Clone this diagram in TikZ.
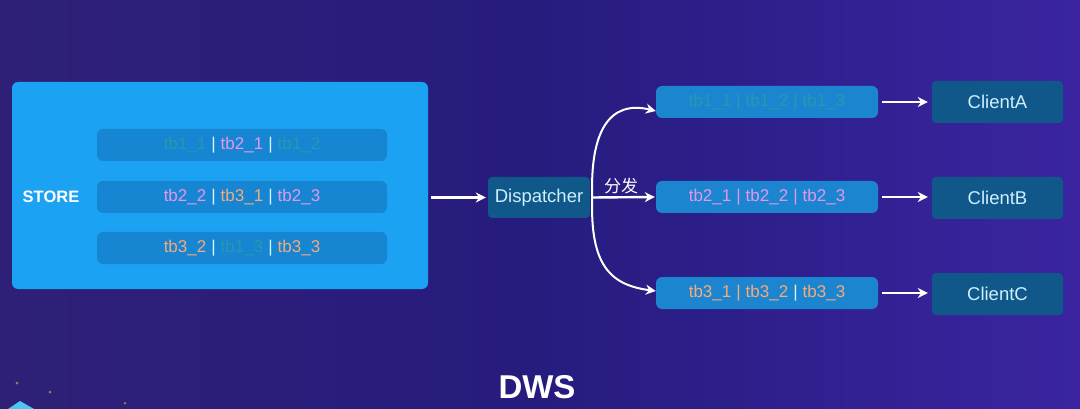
\documentclass[tikz,border=0pt]{standalone}
\usepackage{fontspec}
\setmainfont{Liberation Sans}
\newfontfamily\cjk{Noto Sans CJK SC}
\usetikzlibrary{arrows.meta}
\definecolor{bgA}{RGB}{46,32,118}
\definecolor{bgB}{RGB}{38,28,126}
\definecolor{bgC}{RGB}{58,36,160}
\definecolor{storeC}{RGB}{27,162,243}
\definecolor{rowC}{RGB}{22,134,210}
\definecolor{rrowC}{RGB}{27,134,207}
\definecolor{tealC}{RGB}{16,88,138}
\definecolor{txtC}{RGB}{205,240,252}
\definecolor{tbA}{RGB}{40,152,175}
\definecolor{tbB}{RGB}{228,150,236}
\definecolor{tbC}{RGB}{244,170,122}
\definecolor{pipeC}{RGB}{215,245,255}
\newcommand{\tA}[1]{\textcolor{tbA}{#1}}
\newcommand{\tB}[1]{\textcolor{tbB}{#1}}
\newcommand{\tC}[1]{\textcolor{tbC}{#1}}
\newcommand{\pp}{\hspace{5pt}\textcolor{pipeC}{|}\hspace{5pt}}
\newcommand{\ppB}{\hspace{5pt}\textcolor{tbB}{|}\hspace{5pt}}
\newcommand{\ppC}{\hspace{5pt}\textcolor{tbC}{|}\hspace{5pt}}
\newcommand{\ppA}{\hspace{5pt}\textcolor{tbA}{|}\hspace{5pt}}
\begin{document}
\begin{tikzpicture}[x=1pt,y=-1pt,
  storebox/.style={rectangle,rounded corners=6pt,fill=storeC,minimum width=416pt,minimum height=207pt,inner sep=0pt},
  rowbox/.style={rectangle,rounded corners=6pt,fill=rowC,minimum width=290pt,minimum height=32pt,inner sep=0pt,font=\fontsize{17}{19}\selectfont},
  rrowbox/.style={rectangle,rounded corners=6pt,fill=rrowC,minimum width=222pt,minimum height=32pt,inner sep=0pt,font=\fontsize{17}{19}\selectfont},
  tealbox/.style={rectangle,rounded corners=4pt,fill=tealC,text=txtC,inner sep=0pt,font=\fontsize{18.5}{21}\selectfont},
  conn/.style={draw=white,line width=2.4pt,-{Stealth[length=10pt,width=10pt]}}
]
\useasboundingbox (0,0) rectangle (1080,409);
\shade[left color=bgA,right color=bgC,middle color=bgB] (0,0) rectangle (1080,409);
% decoration bottom-left
\fill[cyan!70!white] (8,409) -- (20,401) -- (34,409) -- cycle;
\fill[tbC!60!bgA] (17,383) circle (1.5pt);
\fill[tbC!60!bgA] (50,392) circle (1.5pt);
\fill[tbC!50!bgA] (125,403) circle (1.5pt);
% store
\node[storebox] (store) at (220,185.5) {};
\node[text=white,font=\bfseries\fontsize{16.5}{18}\selectfont] (storelbl) at (51,197) {STORE};
\node[rowbox] (s1) at (242,145) {\tA{tb1\_1}\pp\tB{tb2\_1}\pp\tA{tb1\_2}};
\node[rowbox] (s2) at (242,197) {\tB{tb2\_2}\pp\tC{tb3\_1}\pp\tB{tb2\_3}};
\node[rowbox] (s3) at (242,248) {\tC{tb3\_2}\pp\tA{tb1\_3}\pp\tC{tb3\_3}};
% dispatcher
\node[tealbox,minimum width=102pt,minimum height=41pt] (disp) at (539,197.5) {Dispatcher};
% right rows
\node[rrowbox] (ra) at (767,102) {\tA{tb1\_1}\ppA\tA{tb1\_2}\ppA\tA{tb1\_3}};
\node[rrowbox] (rb) at (767,197) {\tB{tb2\_1}\ppB\tB{tb2\_2}\ppB\tB{tb2\_3}};
\node[rrowbox] (rc) at (767,293) {\tC{tb3\_1}\ppC\tC{tb3\_2}\pp\tC{tb3\_3}};
% clients
\node[tealbox,minimum width=131pt,minimum height=42pt] (ca) at (997.5,102) {ClientA};
\node[tealbox,minimum width=131pt,minimum height=42pt] (cb) at (997.5,198) {ClientB};
\node[tealbox,minimum width=131pt,minimum height=42pt] (cc) at (997.5,294) {ClientC};
% connectors
\draw[conn,shorten <=3pt,shorten >=2pt] (store.east |- disp.west) -- (disp.west);
\coordinate (dout) at ([xshift=2pt]disp.east);
\draw[conn,shorten >=1pt] (dout) -- (rb.west);
\draw[draw=white,line width=2pt,-{Stealth[length=10pt,width=10pt]}] (dout) .. controls (590,130) and (610,100) .. ([yshift=-9pt]ra.west);
\draw[draw=white,line width=2pt,-{Stealth[length=10pt,width=10pt]}] (dout) .. controls (590,265) and (610,285) .. ([yshift=2pt]rc.west);
\node[text=white,font=\cjk\fontsize{17}{19}\selectfont] (fafa) at (621,186) {分发};
\draw[conn,shorten <=4pt,shorten >=4pt] (ra.east) -- (ca.west |- ra.east);
\draw[conn,shorten <=4pt,shorten >=4pt] (rb.east) -- (cb.west |- rb.east);
\draw[conn,shorten <=4pt,shorten >=4pt] (rc.east) -- (cc.west |- rc.east);
% title
\node[text=white,font=\bfseries\fontsize{33}{36}\selectfont] (dws) at (537,387) {DWS};
\end{tikzpicture}
\end{document}
